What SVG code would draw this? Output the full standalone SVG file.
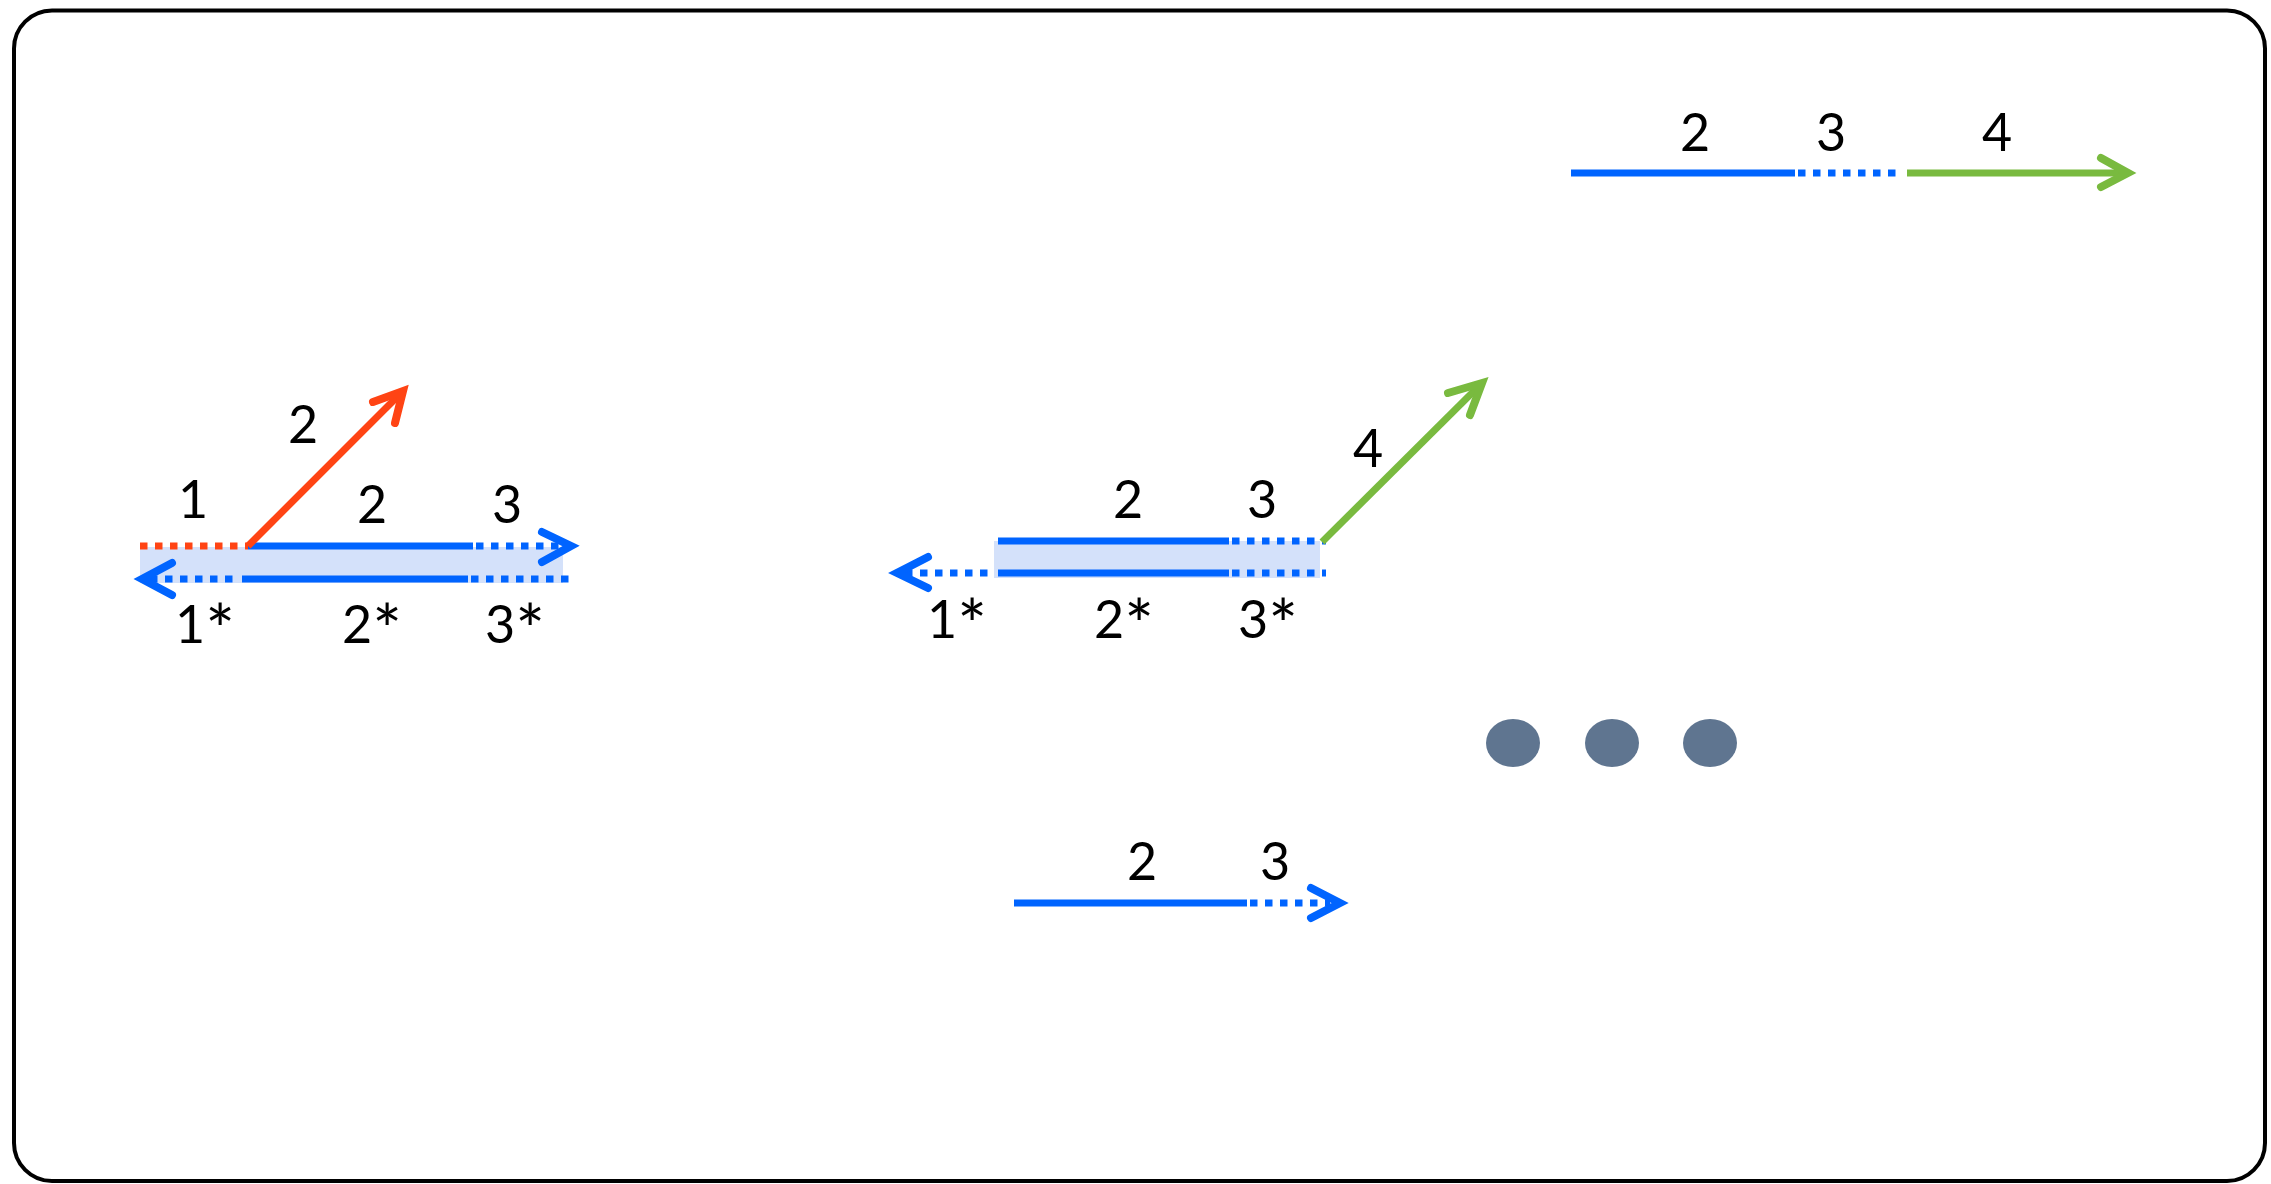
<svg xmlns="http://www.w3.org/2000/svg" width="2271" height="1184" viewBox="0 0 2271 1184">
<style>
.lbl{font-family:Lato,"Open Sans",sans-serif;font-size:52px;fill:#000;text-anchor:middle}
.ast{font-size:70px}
.b{stroke:#0064FF;stroke-width:7;fill:none}
.dot{stroke-dasharray:7.5 7.5}
.r{stroke:#FF4414;stroke-width:7;fill:none}
.g{stroke:#79BA3F;stroke-width:7;fill:none}
.head{stroke-linecap:round;stroke-linejoin:miter;stroke-width:8;fill:none}
.band{fill:#D4E1FA}
.ell{fill:#5F7590}
</style>
<rect x="14" y="10.5" width="2251" height="1170.5" rx="38" ry="38" fill="#fff" stroke="#000" stroke-width="4"/>
<g id="left-duplex">
<rect class="band" x="140" y="547" width="423" height="36"/>
</g>
<g id="middle-duplex">
<rect class="band" x="994" y="541" width="326" height="37"/>
</g>
<g id="connectors">
<!-- left -->
<line class="r dot" x1="140" y1="546" x2="248" y2="546" stroke-dasharray="8 8.5"/>
<line class="b" x1="248" y1="546" x2="473" y2="546"/>
<line class="b dot" x1="476" y1="546" x2="565" y2="546"/>
<polyline class="b head" points="542,532 571,546 542,562"/>
<line class="b dot" x1="150" y1="579" x2="237" y2="579"/>
<line class="b" x1="242" y1="579" x2="468" y2="579"/>
<line class="b dot" x1="471" y1="579" x2="572" y2="579"/>
<polyline class="b head" points="172,563 142,579 172,595"/>
<line class="r" x1="248" y1="546" x2="400" y2="394"/>
<polyline class="r head" points="373,402 403,391 395,423"/>
<!-- middle -->
<line class="b" x1="998" y1="541" x2="1229" y2="541"/>
<line class="b dot" x1="1232" y1="541" x2="1326" y2="541"/>
<line class="b" x1="998" y1="573" x2="1229" y2="573"/>
<line class="b dot" x1="1232" y1="573" x2="1326" y2="573"/>
<line class="b dot" x1="905" y1="573" x2="990" y2="573"/>
<polyline class="b head" points="928,557 897,573 928,588"/>
<line class="g" x1="1322" y1="542" x2="1479" y2="386"/>
<polyline class="g head" points="1448,393 1482,383 1470,415"/>
<!-- top right -->
<line class="b" x1="1571" y1="173" x2="1795" y2="173"/>
<line class="b dot" x1="1798" y1="173" x2="1898" y2="173"/>
<line class="g" x1="1907" y1="173" x2="2126" y2="173"/>
<polyline class="g head" points="2101,158 2128,173 2101,187"/>
<!-- bottom -->
<line class="b" x1="1014" y1="903" x2="1247" y2="903"/>
<line class="b dot" x1="1250" y1="903" x2="1330" y2="903"/>
<polyline class="b head" points="1311,888 1340,903 1311,918"/>
</g>
<g id="labels">
<text class="lbl" x="303" y="443">2</text>
<text class="lbl" x="193" y="518">1</text>
<text class="lbl" x="372" y="523">2</text>
<text class="lbl" x="507" y="523">3</text>
<text class="lbl" x="205" y="643">1<tspan class="ast" dy="12">*</tspan></text>
<text class="lbl" x="372" y="643">2<tspan class="ast" dy="12">*</tspan></text>
<text class="lbl" x="515" y="643">3<tspan class="ast" dy="12">*</tspan></text>
<text class="lbl" x="1368" y="467">4</text>
<text class="lbl" x="1128" y="518">2</text>
<text class="lbl" x="1262" y="518">3</text>
<text class="lbl" x="957" y="638">1<tspan class="ast" dy="12">*</tspan></text>
<text class="lbl" x="1124" y="638">2<tspan class="ast" dy="12">*</tspan></text>
<text class="lbl" x="1268" y="638">3<tspan class="ast" dy="12">*</tspan></text>
<text class="lbl" x="1695" y="151">2</text>
<text class="lbl" x="1831" y="151">3</text>
<text class="lbl" x="1997" y="151">4</text>
<text class="lbl" x="1142" y="880">2</text>
<text class="lbl" x="1275" y="880">3</text>
</g>
<g id="ellipsis">
<ellipse class="ell" cx="1513" cy="743" rx="27" ry="24"/>
<ellipse class="ell" cx="1612" cy="743" rx="27" ry="24"/>
<ellipse class="ell" cx="1710" cy="743" rx="27" ry="24"/>
</g>
</svg>
